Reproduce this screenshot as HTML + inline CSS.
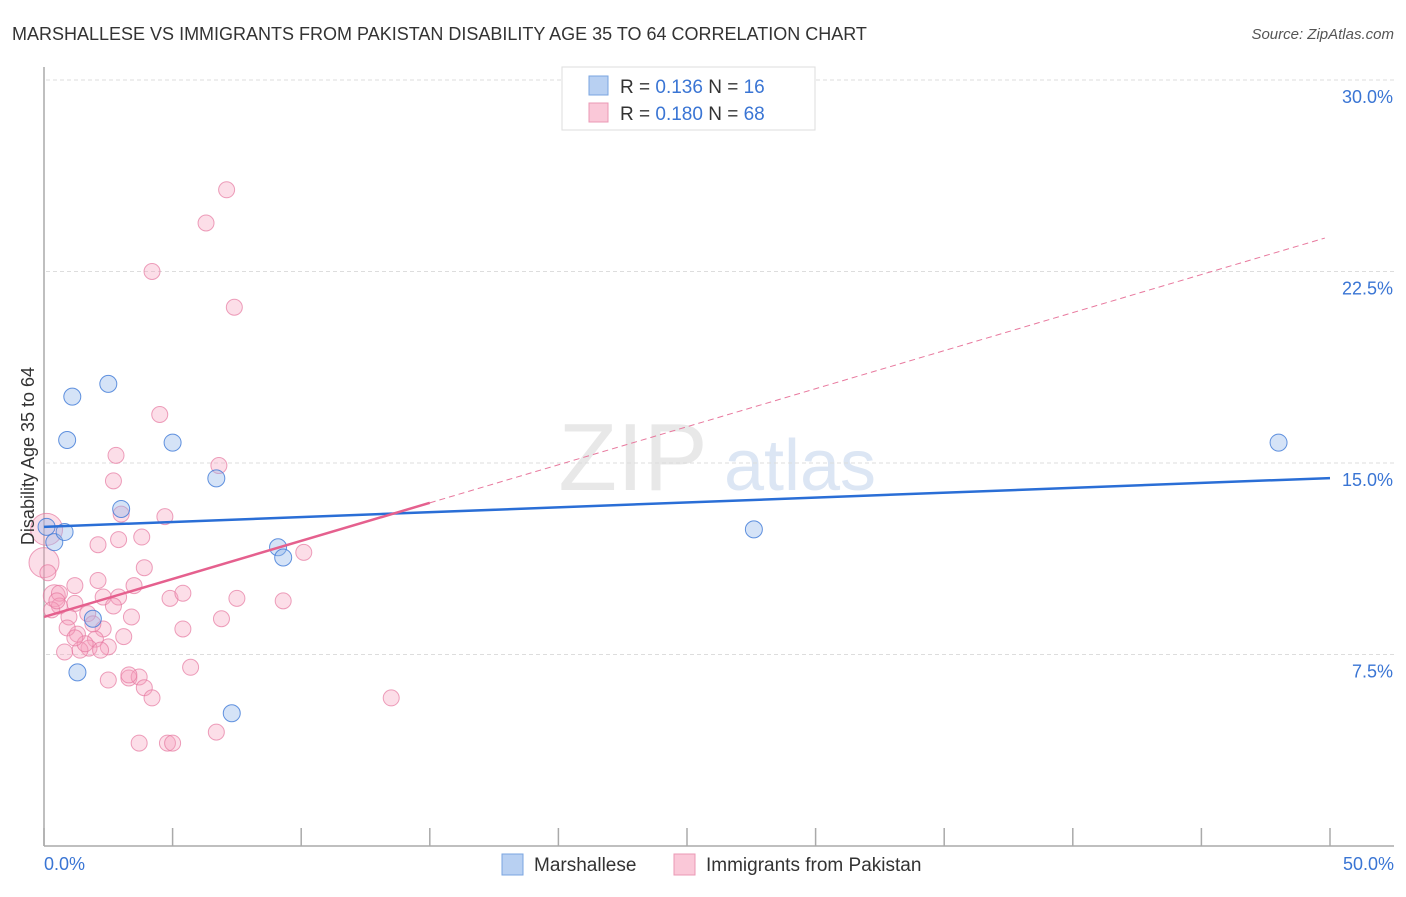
<!DOCTYPE html>
<html><head><meta charset="utf-8"><style>
body{margin:0;background:#fff;font-family:"Liberation Sans",sans-serif}
svg text{font-family:"Liberation Sans",sans-serif}
</style></head><body>
<svg id="chart" width="1406" height="892">
<text x="12" y="40" font-size="18" fill="#333">MARSHALLESE VS IMMIGRANTS FROM PAKISTAN DISABILITY AGE 35 TO 64 CORRELATION CHART</text>
<text x="1394" y="39" font-size="15" fill="#555" font-style="italic" text-anchor="end">Source: ZipAtlas.com</text>
<text x="633" y="490" font-size="96" fill="#e8e8e8" font-family="Liberation Serif" text-anchor="middle">ZIP</text>
<text x="800" y="490" font-size="72" fill="#dce6f4" text-anchor="middle">atlas</text>
<g id="grid"></g><g id="axes"></g><g id="marks"></g>
<text transform="translate(34,456) rotate(-90)" font-size="18" fill="#333" text-anchor="middle">Disability Age 35 to 64</text>
<g>
<rect x="562" y="67" width="253" height="63" fill="#fff" stroke="#ddd"/>
<rect x="589" y="76" width="19" height="19" fill="#b8d0f2" stroke="#7aa5e0"/>
<rect x="589" y="103" width="19" height="19" fill="#fac8d8" stroke="#eb98b5"/>
<text x="620" y="93" font-size="19" fill="#333">R = <tspan fill="#3a75d4">0.136</tspan>   N = <tspan fill="#3a75d4">16</tspan></text>
<text x="620" y="120" font-size="19" fill="#333">R = <tspan fill="#3a75d4">0.180</tspan>   N = <tspan fill="#3a75d4">68</tspan></text>
</g>
<g>
<rect x="502" y="854" width="21" height="21" fill="#b8d0f2" stroke="#7aa5e0"/>
<text x="534" y="871" font-size="19" fill="#333">Marshallese</text>
<rect x="674" y="854" width="21" height="21" fill="#fac8d8" stroke="#eb98b5"/>
<text x="706" y="871" font-size="19" fill="#333">Immigrants from Pakistan</text>
</g>
</svg>
<script>
const yTicks=[7.5,15,22.5,30];
const yTickLabels=["7.5%","15.0%","22.5%","30.0%"];
const xTickLabels=["0.0%","50.0%"];
const blueX=[0.1,0.4,0.8,0.9,1.1,2.5,5.0,3.0,6.7,9.1,9.3,1.9,1.3,7.3,27.6,48.0];
const blueY=[12.5,11.9,12.3,15.9,17.6,18.1,15.8,13.2,14.4,11.7,11.3,8.9,6.8,5.2,12.4,15.8];
const pinkX=[7.1,6.3,4.2,7.4,4.5,6.8,2.8,2.7,3.0,4.7,2.9,3.8,2.1,10.1,0.1,0.0,3.9,2.1,1.2,3.5,0.4,0.6,4.9,5.4,7.5,9.3,2.3,2.9,3.4,2.7,1.2,0.6,0.97,1.7,5.4,6.9,2.3,1.3,2.0,3.1,0.9,1.9,2.5,1.75,1.4,0.8,5.7,2.5,3.3,3.7,3.3,3.9,4.2,13.5,3.7,4.8,5.0,6.7,1.6,1.2,2.2,0.3,0.5,0.15];
const pinkY=[25.7,24.4,22.5,21.1,16.9,14.9,15.3,14.3,13.0,12.9,12.0,12.1,11.8,11.5,12.4,11.1,10.9,10.4,10.2,10.2,9.8,9.9,9.7,9.9,9.7,9.6,9.75,9.75,8.97,9.4,9.5,9.4,8.97,9.1,8.5,8.9,8.5,8.3,8.1,8.2,8.54,8.7,7.8,7.75,7.67,7.6,7.0,6.5,6.58,6.62,6.7,6.2,5.8,5.8,4.03,4.03,4.03,4.46,7.92,8.15,7.67,9.25,9.6,10.7];
const pinkR=[8,8,8,8,8,8,8,8,8,8,8,8,8,8,16,15,8,8,8,8,11,8,8,8,8,8,8,8,8,8,8,8,8,8,8,8,8,8,8,8,8,8,8,8,8,8,8,8,8,8,8,8,8,8,8,8,8,8,8,8,8,8,8,8];
const blueFit=[12.5,14.41];
const pinkFit=[8.97,0.298];
const sx=v=>44+v*25.72, sy=v=>846-v*25.533;
const NS="http://www.w3.org/2000/svg";
function mk(p,t,a){const e=document.createElementNS(NS,t);for(const k in a)e.setAttribute(k,a[k]);p.appendChild(e);return e;}
const grid=document.getElementById('grid'),axes=document.getElementById('axes'),marks=document.getElementById('marks');
yTicks.forEach((t,i)=>{
 const l=mk(grid,'line',{x1:46,x2:1394,y1:sy(t),y2:sy(t),stroke:'#ddd','stroke-dasharray':'4,3'});
 
 
 const tx=mk(axes,'text',{x:1393,y:sy(t)+23,'font-size':18,fill:'#3a75d4','text-anchor':'end'});
 tx.textContent=yTickLabels[i];
 
 
});
const ya=mk(axes,'line',{x1:44,x2:44,y1:67,y2:846,stroke:'#aaa','stroke-width':1.5});


const xa=mk(axes,'line',{x1:44,x2:1394,y1:846,y2:846,stroke:'#aaa','stroke-width':1.5});


for(let i=0;i<=10;i++){const tk=mk(axes,'line',{x1:sx(i*5),x2:sx(i*5),y1:828,y2:846,stroke:'#aaa','stroke-width':1.5});
 
 }
[[0,'start',44],[50,'end',1394]].forEach((d,i)=>{const tx=mk(axes,'text',{x:d[2],y:870,'font-size':18,fill:'#3a75d4','text-anchor':d[1]});
 tx.textContent=xTickLabels[i];
 
 });
pinkX.forEach((x,i)=>{const c=mk(marks,'circle',{cx:sx(x),cy:sy(pinkY[i]),r:pinkR[i],fill:'rgba(245,160,190,0.35)',stroke:'rgba(230,120,160,0.7)','stroke-width':1});
 
 });
blueX.forEach((x,i)=>{const c=mk(marks,'circle',{cx:sx(x),cy:sy(blueY[i]),r:8.5,fill:'rgba(150,185,235,0.4)',stroke:'rgba(60,120,215,0.8)','stroke-width':1});
 
 });
const bl=mk(marks,'line',{x1:sx(0),y1:sy(blueFit[0]),x2:sx(50),y2:sy(blueFit[1]),stroke:'#2a6ed6','stroke-width':2.5});


const pd=mk(marks,'line',{x1:sx(15),y1:sy(pinkFit[0]+pinkFit[1]*15),x2:sx(49.8),y2:sy(pinkFit[0]+pinkFit[1]*49.8),stroke:'#e8799e','stroke-width':1,'stroke-dasharray':'6,4'});


const pl=mk(marks,'line',{x1:sx(0),y1:sy(pinkFit[0]),x2:sx(15),y2:sy(pinkFit[0]+pinkFit[1]*15),stroke:'#e5608e','stroke-width':2.5});


</script>
</body></html>
